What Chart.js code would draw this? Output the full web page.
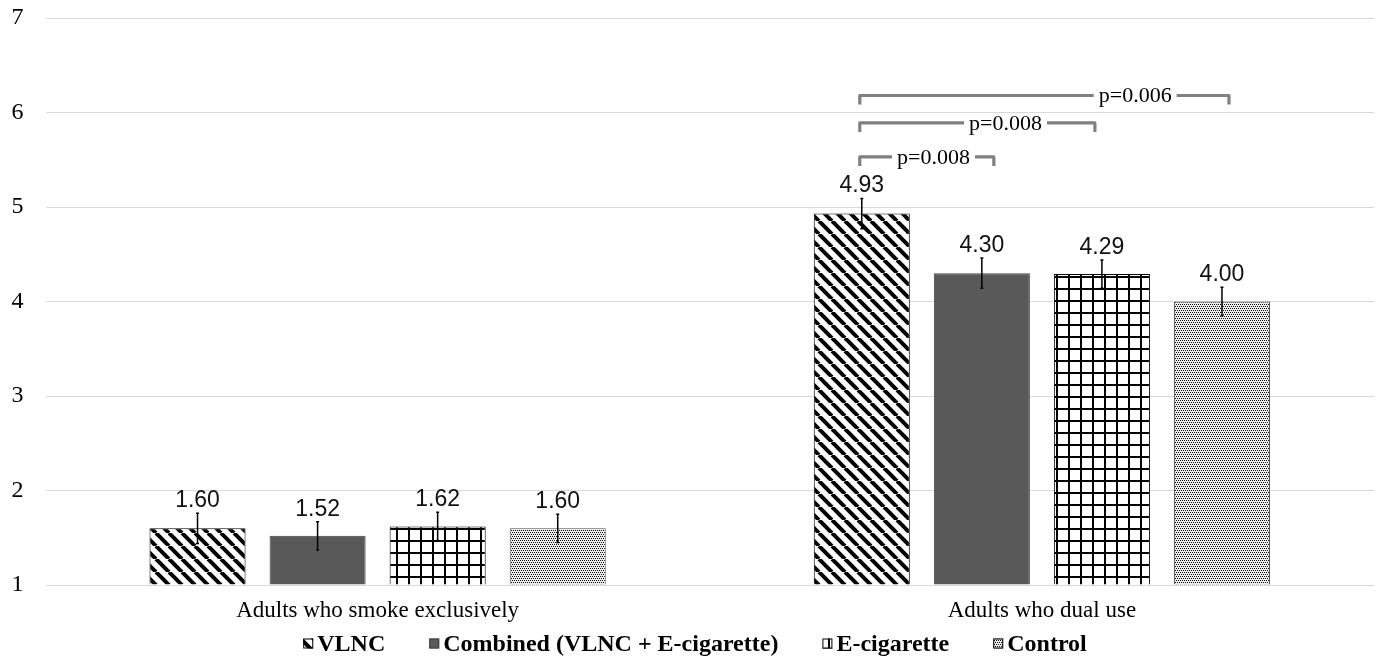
<!DOCTYPE html>
<html>
<head>
<meta charset="utf-8">
<script src="https://cdn.jsdelivr.net/npm/chart.js@4"></script>
<style>
  body { margin: 0; background: #fff; }
  #wrap { width: 1376px; height: 658px; }
</style>
</head>
<body>
<div id="wrap"><canvas id="barChart" width="1376" height="658"></canvas></div>
<script>
// data
const categories = ['Adults who smoke exclusively', 'Adults who dual use'];
const seriesNames = ['VLNC', 'Combined (VLNC + E-cigarette)', 'E-cigarette', 'Control'];
const vlncValues = [1.60, 4.93];
const combinedValues = [1.52, 4.30];
const ecigValues = [1.62, 4.29];
const controlValues = [1.60, 4.00];
const vlncErr = [0.16, 0.16];
const combinedErr = [0.15, 0.16];
const ecigErr = [0.15, 0.15];
const controlErr = [0.15, 0.15];
const yTickValues = [1, 2, 3, 4, 5, 6, 7];

// significance brackets (dual use group, VLNC vs other arm)
const pLabels = ['p=0.008', 'p=0.008', 'p=0.006'];
const pTargets = [1, 2, 3];
const pLevels = [5.53, 5.89, 6.18];
const pCategory = 1;

// drawing style for the brackets
const bracketEndOffset = [12, -7, 7];
const bracketTextPos = [0.55, 0.62, 0.746];

const serif = '"Liberation Serif", "Times New Roman", serif';
const sans = '"Liberation Sans", Arial, sans-serif';

function makeTile(w, h, bg, draw) {
  const c = document.createElement('canvas');
  c.width = w; c.height = h;
  const g = c.getContext('2d');
  g.fillStyle = bg;
  g.fillRect(0, 0, w, h);
  draw(g);
  return document.getElementById('barChart').getContext('2d').createPattern(c, 'repeat');
}

const stripePattern = makeTile(13, 13, '#fff', g => {
  g.strokeStyle = '#000';
  g.lineWidth = 4;
  [-13, 0, 13].forEach(x0 => {
    g.beginPath();
    g.moveTo(x0, 0);
    g.lineTo(x0 + 13, 13);
    g.stroke();
  });
});

const gridPattern = makeTile(12, 12, '#fff', g => {
  g.fillStyle = '#000';
  g.fillRect(0, 0, 2, 12);
  g.fillRect(0, 0, 12, 2);
});

const dotPattern = makeTile(4, 4, '#ececec', g => {
  g.fillStyle = '#111';
  g.fillRect(0, 0, 1, 1);
  g.fillRect(2, 0, 1, 1);
  g.fillRect(1, 2, 1, 1);
  g.fillRect(3, 2, 1, 1);
});

const seriesValues = [vlncValues, combinedValues, ecigValues, controlValues];
const seriesErr = [vlncErr, combinedErr, ecigErr, controlErr];
const fills = [stripePattern, '#595959', gridPattern, dotPattern];
const borders = ['#000', '#404040', '#000', '#555'];

const datasets = seriesNames.map((name, i) => ({
  label: name,
  data: seriesValues[i],
  base: 1,
  backgroundColor: fills[i],
  borderColor: borders[i],
  borderWidth: 1,
  categoryPercentage: 0.723,
  barPercentage: 0.8
}));

const extrasPlugin = {
  id: 'extras',
  afterDatasetsDraw(chart) {
    const ctx = chart.ctx;
    const y = chart.scales.y;
    ctx.save();

    // error bars + value labels
    chart.data.datasets.forEach((ds, i) => {
      const meta = chart.getDatasetMeta(i);
      meta.data.forEach((bar, j) => {
        const v = ds.data[j];
        const e = seriesErr[i][j];
        const yTop = y.getPixelForValue(v + e);
        const yBot = y.getPixelForValue(v - e);
        ctx.strokeStyle = '#000';
        ctx.lineWidth = 1.5;
        ctx.beginPath();
        ctx.moveTo(bar.x, yTop);
        ctx.lineTo(bar.x, yBot);
        ctx.moveTo(bar.x - 1.5, yTop);
        ctx.lineTo(bar.x + 1.5, yTop);
        ctx.moveTo(bar.x - 1.5, yBot);
        ctx.lineTo(bar.x + 1.5, yBot);
        ctx.stroke();

        ctx.fillStyle = '#111';
        ctx.font = '23px ' + sans;
        ctx.textAlign = 'center';
        ctx.textBaseline = 'alphabetic';
        ctx.fillText(v.toFixed(2), bar.x, yTop - 6);
      });
    });

    // brackets
    const startBar = chart.getDatasetMeta(0).data[pCategory];
    pLabels.forEach((lab, k) => {
      const endBar = chart.getDatasetMeta(pTargets[k]).data[pCategory];
      const x1 = startBar.x - 2;
      const x2 = endBar.x + bracketEndOffset[k];
      const ly = y.getPixelForValue(pLevels[k]);
      ctx.font = '22px ' + serif;
      const tw = ctx.measureText(lab).width;
      const tc = x1 + (x2 - x1) * bracketTextPos[k];
      ctx.strokeStyle = '#808080';
      ctx.lineWidth = 3.2;
      ctx.lineJoin = 'round';
      ctx.beginPath();
      ctx.moveTo(x1, ly + 9);
      ctx.lineTo(x1, ly);
      ctx.lineTo(tc - tw / 2 - 5, ly);
      ctx.moveTo(tc + tw / 2 + 5, ly);
      ctx.lineTo(x2, ly);
      ctx.lineTo(x2, ly + 9);
      ctx.stroke();
      ctx.fillStyle = '#000';
      ctx.textAlign = 'center';
      ctx.textBaseline = 'alphabetic';
      ctx.fillText(lab, tc, ly + 7);
    });
    ctx.restore();
  },
  afterDraw(chart) {
    // legend along the bottom
    const ctx = chart.ctx;
    ctx.save();
    ctx.font = 'bold 24px ' + serif;
    const box = 10, boxGap = 4, itemGap = 44;
    const widths = seriesNames.map(n => ctx.measureText(n).width);
    const total = widths.reduce((a, b) => a + b, 0) + seriesNames.length * (box + boxGap) + (seriesNames.length - 1) * itemGap;
    let x = 695 - total / 2;
    const cy = 643.5;
    seriesNames.forEach((n, i) => {
      ctx.fillStyle = fills[i];
      ctx.fillRect(x, cy - box / 2, box, box);
      ctx.strokeStyle = i === 1 ? '#404040' : '#000';
      ctx.lineWidth = 1;
      ctx.strokeRect(x + 0.5, cy - box / 2 + 0.5, box - 1, box - 1);
      ctx.fillStyle = '#000';
      ctx.textAlign = 'left';
      ctx.textBaseline = 'middle';
      ctx.fillText(n, x + box + boxGap, cy + 1);
      x += box + boxGap + widths[i] + itemGap;
    });
    ctx.restore();
  }
};

new Chart(document.getElementById('barChart'), {
  type: 'bar',
  data: { labels: categories, datasets },
  options: {
    responsive: false,
    animation: false,
    layout: { padding: { top: 18, right: 2, bottom: 33, left: 0 } },
    plugins: {
      legend: { display: false },
      tooltip: { enabled: false }
    },
    scales: {
      x: {
        grid: { display: false, drawTicks: false },
        border: { display: false },
        ticks: { color: '#000', font: { family: serif, size: 23 }, padding: 12 },
        afterFit(scale) { scale.height = 40; }
      },
      y: {
        min: 1,
        max: 7,
        afterBuildTicks(scale) { scale.ticks = yTickValues.map(v => ({ value: v })); },
        grid: { color: '#d9d9d9', lineWidth: 1, drawTicks: false },
        border: { display: false },
        ticks: { color: '#000', font: { family: serif, size: 24 }, padding: 22 },
        afterFit(scale) {
          scale.width = 45.5;
          scale.paddingTop = 0;
          scale.paddingBottom = 0;
        }
      }
    }
  },
  plugins: [extrasPlugin]
});
</script>
</body>
</html>
